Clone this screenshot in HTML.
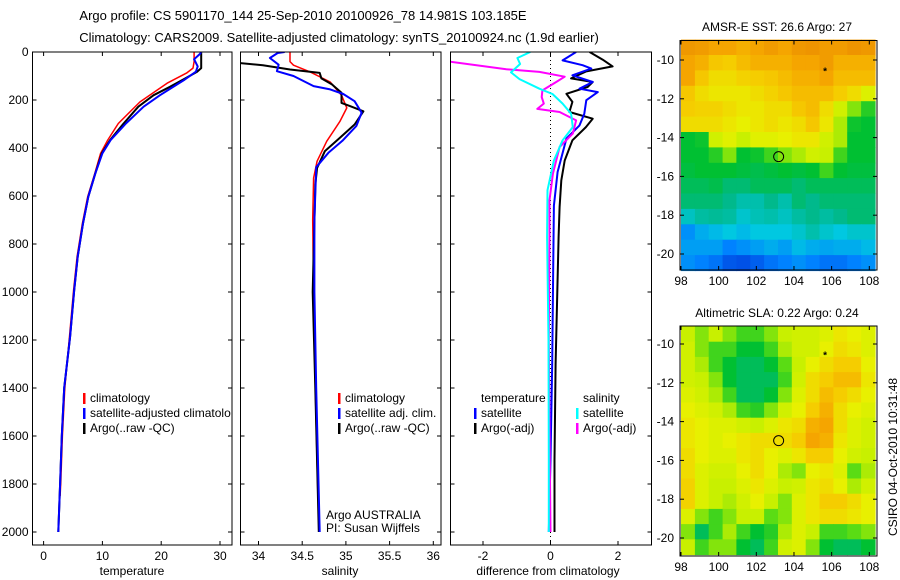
<!DOCTYPE html>
<html><head><meta charset="utf-8">
<style>
html,body{margin:0;padding:0;background:#fff;}
svg{display:block;font-family:"Liberation Sans",sans-serif;}
text{font-size:12px;fill:#000;}
</style></head>
<body>
<svg id="chart" width="900" height="580" viewBox="0 0 900 580" xmlns="http://www.w3.org/2000/svg">
<text x="303" y="20" text-anchor="middle" style="font-size:13px">Argo profile: CS 5901170_144 25-Sep-2010 20100926_78 14.981S 103.185E</text>
<text x="339" y="42" text-anchor="middle" style="font-size:13px">Climatology: CARS2009. Satellite-adjusted climatology: synTS_20100924.nc (1.9d earlier)</text>
<g id="layer"></g>
</svg>
<script>
// ---------- data ----------
const depthTicks = [0,200,400,600,800,1000,1200,1400,1600,1800,2000];
const tempTicks = [0,10,20,30];
const salTicks = [34,34.5,35,35.5,36];
const diffTicks = [-2,0,2];
const latTicks = [10,12,14,16,18,20];
const lonTicks = [98,100,102,104,106,108];

// temperature profiles [depth, value]
const tempClimDepth = [0,40,67,88,130,208,298,367,422,506,603,714,853,992,1186,1400,1600,1800,1850];
const tempClimVal   = [25.6,25.6,25.4,24.3,21.0,16.4,12.7,10.9,9.7,8.7,7.5,6.6,5.7,5.1,4.4,3.6,3.2,2.9,2.8];
const tempSatDepth  = [0,8,30,60,82,115,180,228,298,367,422,506,603,714,853,992,1186,1400,1600,1800,2000];
const tempSatVal    = [26.8,26.6,25.6,26.2,25.9,24.0,19.8,17.0,14.0,11.4,10.0,8.8,7.6,6.7,5.8,5.2,4.5,3.5,3.1,2.8,2.5];
const tempArgoDepth = [0,67,82,110,145,180,228,298,367,422,506,603,714,853,992,1186,1400,1600,1800,2000];
const tempArgoVal   = [26.8,26.8,26.1,24.1,21.5,18.7,16.1,13.6,11.3,9.9,8.8,7.6,6.7,5.8,5.2,4.5,3.5,3.1,2.8,2.5];

// salinity profiles
const salClimDepth = [0,40,55,83,125,180,233,290,372,455,525,700,1000,1400,1850];
const salClimVal   = [34.36,34.36,34.40,34.59,34.82,34.95,35.01,34.93,34.78,34.67,34.63,34.62,34.63,34.65,34.68];
const salSatDepth  = [0,4,25,53,80,100,142,156,175,205,253,308,370,420,480,700,1000,1400,2000];
const salSatVal    = [34.30,34.22,34.13,34.23,34.21,34.40,34.63,34.82,34.97,35.10,35.18,35.12,34.96,34.80,34.66,34.64,34.64,34.66,34.70];
const salArgoDepth = [0,45,55,73,87,110,135,170,212,226,247,302,358,413,483,553,1000,1400,2000];
const salArgoVal   = [33.70,33.75,34.05,34.36,34.70,34.72,34.84,34.95,34.95,35.05,35.20,35.10,34.93,34.76,34.67,34.65,34.62,34.65,34.69];

// differences from climatology
const dTsatDepth = [0,35,55,69,97,125,153,167,201,257,306,361,500,640,900,1300,1700,2000];
const dTsatVal   = [0.76,0.36,0.95,1.21,0.65,1.25,0.86,1.40,1.06,1.00,0.86,0.47,0.21,0.10,0.08,0.05,0.0,-0.05];
const dTargoDepth = [0,32,60,81,110,125,146,174,208,250,278,313,368,452,535,646,770,1000,1300,1700,2000];
const dTargoVal   = [1.16,1.55,1.84,1.06,0.61,1.25,1.10,0.47,0.65,0.56,1.25,1.05,0.65,0.42,0.32,0.27,0.24,0.20,0.15,0.12,0.12];
const dSsatDepth = [0,25,50,85,113,153,175,215,257,313,368,452,576,770,1200,1700,2000];
const dSsatVal   = [-0.60,-0.98,-0.90,-1.17,-0.92,-0.33,0.06,0.36,0.61,0.66,0.36,0.10,-0.09,-0.10,-0.06,-0.05,-0.05];
const dSargoDepth = [0,40,72,83,103,125,160,188,215,237,250,285,340,396,507,618,770,1200,1700,2000];
const dSargoVal   = [-3.0,-3.0,-1.31,-0.33,0.42,0.17,-0.24,-0.26,-0.20,-0.39,0.27,0.76,0.66,0.27,0.07,-0.03,-0.03,-0.05,-0.02,0.0];

// map grids (normalized colour index, rows north->south)
const sstGrid = [
[0.85,0.84,0.82,0.82,0.8,0.82,0.84,0.82,0.85,0.86,0.84,0.84,0.86,0.85],
[0.82,0.8,0.76,0.75,0.78,0.8,0.8,0.8,0.82,0.82,0.84,0.8,0.8,0.8],
[0.82,0.76,0.72,0.72,0.74,0.75,0.76,0.78,0.8,0.8,0.82,0.78,0.78,0.78],
[0.76,0.72,0.7,0.7,0.7,0.72,0.74,0.76,0.78,0.78,0.78,0.75,0.72,0.65],
[0.75,0.74,0.74,0.72,0.7,0.7,0.72,0.72,0.76,0.78,0.72,0.62,0.55,0.48],
[0.72,0.72,0.72,0.7,0.68,0.7,0.72,0.7,0.72,0.76,0.7,0.58,0.46,0.45],
[0.45,0.46,0.62,0.66,0.6,0.66,0.66,0.68,0.7,0.7,0.62,0.58,0.45,0.45],
[0.45,0.45,0.48,0.55,0.45,0.46,0.5,0.55,0.58,0.62,0.6,0.5,0.45,0.45],
[0.44,0.45,0.45,0.45,0.44,0.43,0.44,0.45,0.44,0.45,0.5,0.45,0.44,0.44],
[0.42,0.42,0.43,0.4,0.4,0.42,0.42,0.42,0.4,0.42,0.42,0.42,0.42,0.42],
[0.4,0.4,0.4,0.38,0.35,0.35,0.38,0.35,0.4,0.38,0.4,0.4,0.4,0.4],
[0.33,0.36,0.37,0.36,0.32,0.34,0.35,0.33,0.36,0.38,0.36,0.38,0.4,0.4],
[0.22,0.26,0.28,0.3,0.28,0.3,0.3,0.3,0.32,0.35,0.32,0.3,0.32,0.32],
[0.24,0.24,0.24,0.2,0.22,0.24,0.26,0.24,0.28,0.26,0.25,0.26,0.26,0.28],
[0.22,0.2,0.18,0.14,0.13,0.15,0.18,0.2,0.22,0.2,0.18,0.18,0.2,0.22]
];
const slaGrid = [
[0.6,0.55,0.6,0.55,0.5,0.5,0.55,0.6,0.62,0.62,0.65,0.7,0.68,0.65],
[0.62,0.55,0.5,0.5,0.45,0.45,0.5,0.58,0.62,0.62,0.68,0.72,0.7,0.65],
[0.62,0.58,0.5,0.45,0.42,0.42,0.45,0.52,0.6,0.68,0.72,0.75,0.75,0.68],
[0.62,0.6,0.55,0.45,0.42,0.42,0.42,0.5,0.62,0.72,0.75,0.78,0.78,0.7],
[0.65,0.62,0.58,0.5,0.42,0.42,0.45,0.55,0.65,0.72,0.78,0.75,0.72,0.68],
[0.68,0.65,0.62,0.58,0.5,0.48,0.55,0.62,0.68,0.75,0.8,0.72,0.68,0.65],
[0.7,0.68,0.65,0.65,0.62,0.6,0.65,0.7,0.72,0.8,0.82,0.72,0.65,0.62],
[0.7,0.68,0.65,0.68,0.7,0.72,0.72,0.72,0.75,0.82,0.8,0.7,0.65,0.62],
[0.72,0.68,0.65,0.65,0.7,0.72,0.68,0.65,0.7,0.75,0.75,0.68,0.62,0.6],
[0.72,0.65,0.62,0.62,0.68,0.72,0.68,0.58,0.55,0.68,0.7,0.65,0.52,0.58],
[0.74,0.65,0.6,0.6,0.65,0.7,0.65,0.6,0.62,0.7,0.72,0.68,0.58,0.62],
[0.74,0.65,0.6,0.58,0.62,0.68,0.6,0.55,0.65,0.7,0.75,0.75,0.72,0.68],
[0.65,0.55,0.5,0.55,0.6,0.6,0.52,0.55,0.65,0.7,0.72,0.72,0.7,0.68],
[0.55,0.42,0.5,0.58,0.5,0.45,0.48,0.58,0.65,0.6,0.5,0.5,0.52,0.55],
[0.6,0.5,0.55,0.55,0.45,0.42,0.5,0.62,0.65,0.55,0.45,0.42,0.42,0.45]
];
const profileLon = [103.185];
const profileLat = [14.981];
const starLon = [105.65];
const starLat = [10.5];

// ---------- helpers ----------
const NS='http://www.w3.org/2000/svg';
const layer=document.getElementById('layer');
function mk(tag,attrs,parent){const e=document.createElementNS(NS,tag);for(const k in attrs)e.setAttribute(k,attrs[k]);(parent||layer).appendChild(e);return e;}
function lin(d0,d1,r0,r1){return v=>r0+(v-d0)*(r1-r0)/(d1-d0);}

const yDepth=lin(0,2000,52,532);
const panelTop=52, panelBot=545;
const panels=[
 {name:'temperature-panel',x0:32.5,x1:232,sx:lin(0,30,43.6,220),ticks:tempTicks,label:'temperature',labelX:132},
 {name:'salinity-panel',x0:240.5,x1:441,sx:lin(34,36,258.5,433.3),ticks:salTicks,label:'salinity',labelX:340},
 {name:'difference-panel',x0:450.5,x1:651.5,sx:lin(-2,2,483,618),ticks:diffTicks,label:'difference from climatology',labelX:548}
];

panels.forEach((p,i)=>{
  const g=mk('g',{});
  
  
  const cid='clip'+i;
  const cp=mk('clipPath',{id:cid},g);
  mk('rect',{x:p.x0,y:panelTop,width:p.x1-p.x0,height:panelBot-panelTop},cp);
  p.g=g;p.clip='url(#'+cid+')';
  depthTicks.forEach(d=>{
    const y=yDepth(d);
    const t1=mk('line',{x1:p.x0,x2:p.x0+4,y1:y,y2:y,stroke:'#000'},g);
    
    
    mk('line',{x1:p.x1-4,x2:p.x1,y1:y,y2:y,stroke:'#000'},g);
    if(i===0){
      const t=mk('text',{x:p.x0-4,y:y+4,'text-anchor':'end'},g);
      t.textContent=d;
      
      
    }
  });
  p.ticks.forEach(v=>{
    const x=p.sx(v);
    mk('line',{x1:x,x2:x,y1:panelBot,y2:panelBot-4,stroke:'#000'},g);
    mk('line',{x1:x,x2:x,y1:panelTop,y2:panelTop+4,stroke:'#000'},g);
    const t=mk('text',{x:x,y:560,'text-anchor':'middle'},g);
    t.textContent=v;
    
    
  });
  const xl=mk('text',{x:p.labelX,y:575,'text-anchor':'middle'},g);
  xl.textContent=p.label;
  
  
});

{
  const p=panels[2];
  const z=mk('line',{x1:p.sx(0),x2:p.sx(0),y1:panelTop,y2:panelBot,stroke:'#000','stroke-dasharray':'1,3'},p.g);
  
  
}

function series(p,depths,vals,color,w,name){
  const pts=depths.map((d,k)=>p.sx(vals[k]).toFixed(1)+','+yDepth(d).toFixed(1)).join(' ');
  const e=mk('polyline',{points:pts,fill:'none',stroke:color,'stroke-width':w,'clip-path':p.clip,'stroke-linejoin':'round'},p.g);
  
  
}
series(panels[0],tempClimDepth,tempClimVal,'#f00',1.5,'temp-climatology-line');
series(panels[0],tempArgoDepth,tempArgoVal,'#000',2,'temp-argo-line');
series(panels[0],tempSatDepth,tempSatVal,'#00f',2,'temp-satellite-line');
series(panels[1],salClimDepth,salClimVal,'#f00',1.5,'sal-climatology-line');
series(panels[1],salArgoDepth,salArgoVal,'#000',2,'sal-argo-line');
series(panels[1],salSatDepth,salSatVal,'#00f',2,'sal-satellite-line');
series(panels[2],dTargoDepth,dTargoVal,'#000',2,'diff-temp-argo-line');
series(panels[2],dTsatDepth,dTsatVal,'#00f',2,'diff-temp-satellite-line');
series(panels[2],dSargoDepth,dSargoVal,'#f0f',2,'diff-sal-argo-line');
series(panels[2],dSsatDepth,dSsatVal,'#0ff',2,'diff-sal-satellite-line');

panels.forEach(p=>{
  const r=mk('rect',{x:p.x0,y:panelTop,width:p.x1-p.x0,height:panelBot-panelTop,fill:'none',stroke:'#000'},p.g);
  
  
});

function legEntry(x,y,color,label,name,clipX){
  const g=mk('g',{});
  
  
  if(color) mk('rect',{x:x,y:y-9,width:2.5,height:11,fill:color},g);
  const t=mk('text',{x:x+7,y:y},g);
  t.textContent=label;
  if(clipX){const c=mk('clipPath',{id:name+'-c'},g);mk('rect',{x:x,y:y-14,width:clipX-x,height:20},c);g.setAttribute('clip-path','url(#'+name+'-c)');}
}
legEntry(83,402,'#f00','climatology','legend-climatology');
legEntry(83,417,'#00f','satellite-adjusted climatology','legend-satellite-adjusted',231);
legEntry(83,432,'#000','Argo(..raw -QC)','legend-argo');
legEntry(338,402,'#f00','climatology','legend-sal-climatology');
legEntry(338,417,'#00f','satellite adj. clim.','legend-sal-satellite');
legEntry(338,432,'#000','Argo(..raw -QC)','legend-sal-argo');
{const t=mk('text',{x:481,y:402});t.textContent='temperature';}
{const t=mk('text',{x:583,y:402});t.textContent='salinity';}
legEntry(474,417,'#00f','satellite','legend-diff-temp-satellite');
legEntry(474,432,'#000','Argo(-adj)','legend-diff-temp-argo');
legEntry(576,417,'#0ff','satellite','legend-diff-sal-satellite');
legEntry(576,432,'#f0f','Argo(-adj)','legend-diff-sal-argo');
{const t=mk('text',{x:326,y:519});t.textContent='Argo AUSTRALIA';}
{const t=mk('text',{x:326,y:532});t.textContent='PI: Susan Wijffels';}

const cmStops=[[0.1,[0,60,220]],[0.2,[0,130,255]],[0.3,[0,200,225]],[0.38,[0,185,140]],[0.45,[0,192,50]],[0.52,[90,220,20]],[0.6,[200,240,0]],[0.68,[232,240,0]],[0.75,[245,205,0]],[0.82,[245,165,0]],[0.9,[230,130,0]]];
function cmap(v){
  if(v<=cmStops[0][0])return 'rgb('+cmStops[0][1]+')';
  for(let i=1;i<cmStops.length;i++){
    if(v<=cmStops[i][0]){const a=cmStops[i-1],b=cmStops[i];const t=(v-a[0])/(b[0]-a[0]);
      return 'rgb('+a[1].map((c,k)=>Math.round(c+(b[1][k]-c)*t)).join(',')+')';}
  }
  return 'rgb('+cmStops[cmStops.length-1][1]+')';
}

function drawMap(cfg){
  const g=mk('g',{});
  
  
  const lonS=lin(98,108,681,869.3), latS=lin(10,20,cfg.y10,cfg.y20);
  const rows=cfg.grid.length, cols=cfg.grid[0].length;
  const lon0=98,lon1=108.3,lat0=cfg.lat0,lat1=20.85;
  const cw=(lon1-lon0)/cols, ch=(lat1-lat0)/rows;
  cfg.grid.forEach((row,r)=>row.forEach((v,c)=>{
    const x=lonS(lon0+c*cw), y=latS(lat0+r*ch);
    const cell=mk('rect',{x:x.toFixed(1),y:y.toFixed(1),width:(lonS(lon0+(c+1)*cw)-x+0.6).toFixed(1),height:(latS(lat0+(r+1)*ch)-y+0.6).toFixed(1),fill:cmap(v)},g);
    
    
  }));
  const fr=mk('rect',{x:680,y:cfg.top,width:197,height:cfg.bot-cfg.top,fill:'none',stroke:'#000'},g);
  
  
  latTicks.forEach(l=>{
    const y=latS(l);
    mk('line',{x1:680,x2:684,y1:y,y2:y,stroke:'#000'},g);
    mk('line',{x1:873,x2:877,y1:y,y2:y,stroke:'#000'},g);
    const t=mk('text',{x:674,y:y+4,'text-anchor':'end'},g);
    t.textContent='-'+l;
    
    
  });
  lonTicks.forEach(l=>{
    const x=lonS(l);
    mk('line',{x1:x,x2:x,y1:cfg.bot,y2:cfg.bot-4,stroke:'#000'},g);
    mk('line',{x1:x,x2:x,y1:cfg.top,y2:cfg.top+4,stroke:'#000'},g);
    const t=mk('text',{x:x,y:cfg.bot+15,'text-anchor':'middle'},g);
    t.textContent=l;
    
    
  });
  const c=mk('circle',{cx:lonS(profileLon[0]),cy:latS(profileLat[0]),r:5,fill:'none',stroke:'#000'},g);
  
  
  const s=mk('text',{x:lonS(starLon[0]),y:latS(starLat[0])+5,'text-anchor':'middle',style:'font-size:10px;font-weight:bold'},g);
  s.textContent='*';
  
  
  const tt=mk('text',{x:777,y:cfg.titleY,'text-anchor':'middle'},g);
  tt.textContent=cfg.title;
  
  
}
drawMap({name:'sst-map',grid:sstGrid,top:40.5,bot:270,y10:60,y20:254,lat0:8.95,titleY:31,title:'AMSR-E SST: 26.6  Argo: 27'});
drawMap({name:'sla-map',grid:slaGrid,top:326,bot:556,y10:344,y20:538,lat0:9.1,titleY:317,title:'Altimetric SLA: 0.22  Argo: 0.24'});

{const t=mk('text',{x:897,y:457,'text-anchor':'middle',transform:'rotate(-90 897 457)'});t.textContent='CSIRO 04-Oct-2010 10:31:48';}
</script>
</body></html>
